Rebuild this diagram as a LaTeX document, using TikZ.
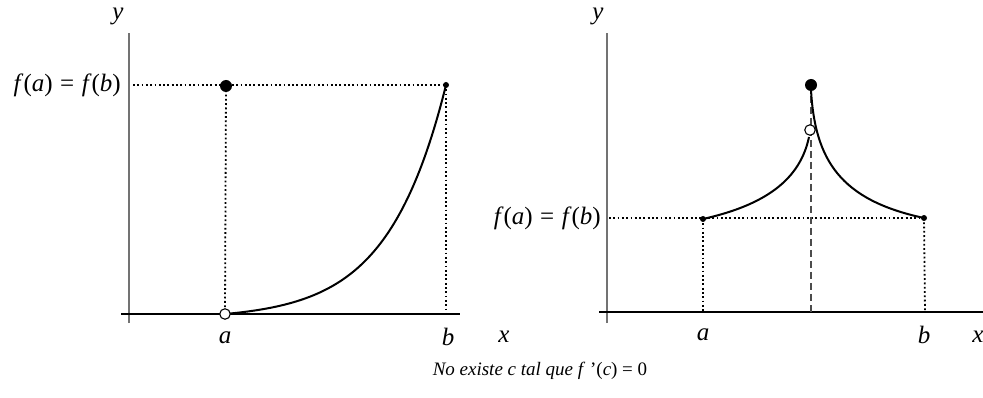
\documentclass[tikz,border=0pt]{standalone}
\usepackage{fontspec}
\setmainfont{Liberation Serif}
\begin{document}
\begin{tikzpicture}[x=1pt,y=-1pt,
  axis/.style={line width=1.4pt,black!55},
  haxis/.style={line width=1.2pt,black},
  curve/.style={line width=2pt,black},
  dotline/.style={line width=1.8pt,dash pattern=on 1.8pt off 2.5pt},
  dashline/.style={line width=1.2pt,black!70,dash pattern=on 7pt off 4pt},
  lbl/.style={font=\fontsize{25}{28}\selectfont\itshape,inner sep=0pt},
  captxt/.style={font=\fontsize{19}{22}\selectfont\itshape,inner sep=0pt},
  bigdot/.style={circle,fill=black,minimum size=12pt,inner sep=0pt},
  smalldot/.style={circle,fill=black,minimum size=6pt,inner sep=0pt},
  opendot/.style={circle,draw=black,fill=white,line width=1.1pt,minimum size=10.5pt,inner sep=0pt}]
\useasboundingbox (0,0) rectangle (983,398);
% ---------- left plot ----------
\coordinate (Ly0) at (129,323);
\coordinate (Ly1) at (129,33);
\coordinate (Lx0) at (121,314);
\coordinate (Lx1) at (460,314);
\coordinate (LfaAx) at (133,85);
\coordinate (La0) at (225,314);
\coordinate (Lb0) at (446,314);
\draw[axis] (Ly0) -- (Ly1);
\draw[haxis] (Lx0) -- (Lx1);
\node[lbl] (Ly) at (118,16) {y};
\node[lbl] (Lx) at (504,337) {x};
\node[lbl] (La) at (225,338) {a};
\node[lbl] (Lb) at (448,337) {b};
\node[lbl,anchor=east,font=\fontsize{25}{28}\selectfont] (Lf) at (121,85) {\textit{f}(\textit{a})\hspace{0.3em}=\hspace{0.3em}\textit{f}(\textit{b})};
\coordinate (LA) at (226,86);
\coordinate (LB) at (446,85);
\draw[dotline] (LfaAx) -- (LB);
\draw[dotline] (LA) -- (La0);
\draw[dotline] (LB) -- (Lb0);
\draw[curve] plot[domain=0:1,samples=80,smooth] ({225+221*\x},{314-229*(exp(3.8*\x)-1)/(exp(3.8)-1)});
\node[bigdot] (LAd) at (LA) {};
\node[smalldot] (LBd) at (LB) {};
\node[opendot] (Lo) at (La0) {};
% ---------- right plot ----------
\coordinate (Ry0) at (607,323);
\coordinate (Ry1) at (607,33);
\coordinate (Rx0) at (599,312);
\coordinate (Rx1) at (983,312);
\coordinate (RfaAx) at (609,218);
\coordinate (RA) at (703,219);
\coordinate (RB) at (924,218);
\coordinate (Ra0) at (703,312);
\coordinate (Rb0) at (925,312);
\coordinate (Rc0) at (811,312);
\coordinate (RC) at (811,85);
\coordinate (RO) at (810,130);
\draw[axis] (Ry0) -- (Ry1);
\draw[haxis] (Rx0) -- (Rx1);
\node[lbl] (Ry) at (598,16) {y};
\node[lbl] (Rx) at (978,337) {x};
\node[lbl] (Ra) at (703,335) {a};
\node[lbl] (Rb) at (924,335) {b};
\node[lbl,anchor=east,font=\fontsize{25}{28}\selectfont] (Rf) at (601,218) {\textit{f}(\textit{a})\hspace{0.3em}=\hspace{0.3em}\textit{f}(\textit{b})};
\draw[dotline] (RfaAx) -- (RB);
\draw[dotline] (RA) -- (Ra0);
\draw[dotline] (RB) -- (Rb0);
\draw[dashline] (RC) -- (Rc0);
\draw[curve] (RA) .. controls (765,205) and (800,180) .. (809,137);
\draw[curve] (811,90) .. controls (815,160) and (840,200) .. (RB);
\node[bigdot] (RCd) at (RC) {};
\node[opendot] (ROd) at (RO) {};
\node[smalldot] (RAd) at (RA) {};
\node[smalldot] (RBd) at (RB) {};
% ---------- caption ----------
\node[captxt] (capnode) at (540,371) {No existe c tal que f \textup{'(}c\textup{) = 0}};
\end{tikzpicture}
\end{document}
